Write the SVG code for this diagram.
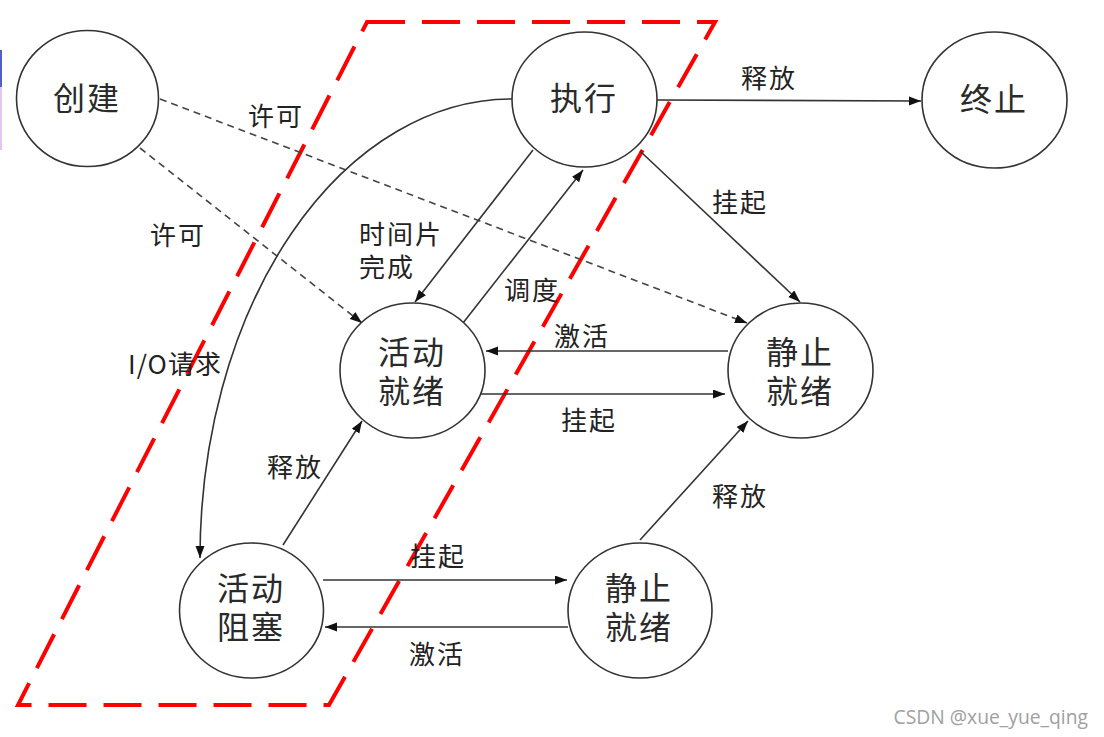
<svg xmlns="http://www.w3.org/2000/svg" width="1104" height="737" viewBox="0 0 1104 737">
<style>
.node{fill:#fff;stroke:#333;stroke-width:1.6}
.lbl{font-family:"Noto Sans CJK SC","Noto Sans",sans-serif;font-size:32px;fill:#2a2a2a;text-anchor:middle;letter-spacing:2px}
.el{font-family:"Noto Sans CJK SC","Noto Sans",sans-serif;font-size:26px;fill:#222;text-anchor:middle;letter-spacing:2px}
.c{fill:none;stroke:#333;stroke-width:1.6}
.d{fill:none;stroke:#444;stroke-width:1.6;stroke-dasharray:7 5}
.box{fill:none;stroke:#ff0000;stroke-width:4;stroke-dasharray:38 17}
</style>
<defs>
<marker id="ah" markerUnits="userSpaceOnUse" markerWidth="13" markerHeight="10" refX="12" refY="4.5" orient="auto">
<path d="M0,0 L12,4.5 L0,9 z" fill="#111"/>
</marker>
</defs>
<rect width="1104" height="737" fill="#fff"/>
<rect x="0" y="50" width="2" height="37" fill="#5060c8"/>
<rect x="0" y="87" width="2" height="63" fill="#e2c8f0"/>

<polygon class="box" points="367,22 715,22 329,705 18,705"/>

<g id="connectors">
<path class="d" d="M160,99 L747,323" marker-end="url(#ah)"/>
<path class="d" d="M140,148 L362,323" marker-end="url(#ah)"/>
<path class="c" d="M657,100 L921,101" marker-end="url(#ah)"/>
<path class="c" d="M640,151 L800,302" marker-end="url(#ah)"/>
<path class="c" d="M512,99 A312,459 0 0 0 200,558" marker-end="url(#ah)"/>
<path class="c" d="M533,150 L415,302" marker-end="url(#ah)"/>
<path class="c" d="M463,323 L583,170" marker-end="url(#ah)"/>
<path class="c" d="M728,351 L486,351" marker-end="url(#ah)"/>
<path class="c" d="M480,394 L725,394" marker-end="url(#ah)"/>
<path class="c" d="M283,545 L362,421" marker-end="url(#ah)"/>
<path class="c" d="M640,540 L748,421" marker-end="url(#ah)"/>
<path class="c" d="M323,580 L567,580" marker-end="url(#ah)"/>
<path class="c" d="M568,627 L325,627" marker-end="url(#ah)"/>
<text class="el" x="276" y="126">许可</text>
<text class="el" x="178" y="245">许可</text>
<text class="el" x="769" y="88">释放</text>
<text class="el" x="740" y="212">挂起</text>
<text class="el" style="text-anchor:start"><tspan x="359" y="244">时间片</tspan><tspan x="359" y="277">完成</tspan></text>
<text class="el" x="532" y="300">调度</text>
<text class="el" x="582" y="346">激活</text>
<text class="el" x="589" y="430">挂起</text>
<text class="el" x="175" y="374" style="letter-spacing:1px">I/O请求</text>
<text class="el" x="295" y="477">释放</text>
<text class="el" x="740" y="506">释放</text>
<text class="el" x="438" y="566">挂起</text>
<text class="el" x="437" y="664">激活</text>
</g>

<g id="n-create">
<ellipse class="node" cx="87.5" cy="98.5" rx="71" ry="68"/>
<text class="lbl" x="87" y="110">创建</text>
</g>
<g id="n-run">
<ellipse class="node" cx="584.5" cy="99.5" rx="72.5" ry="67.5"/>
<text class="lbl" x="584" y="110">执行</text>
</g>
<g id="n-exit">
<ellipse class="node" cx="994.5" cy="100" rx="72.5" ry="68"/>
<text class="lbl" x="994" y="111">终止</text>
</g>
<g id="n-active-ready">
<ellipse class="node" cx="412.5" cy="370.5" rx="72.5" ry="67.5"/>
<text class="lbl"><tspan x="412" y="364">活动</tspan><tspan x="412" y="403">就绪</tspan></text>
</g>
<g id="n-static-ready">
<ellipse class="node" cx="800.5" cy="370.5" rx="72.5" ry="67.5"/>
<text class="lbl"><tspan x="800" y="364">静止</tspan><tspan x="800" y="403">就绪</tspan></text>
</g>
<g id="n-active-blocked">
<ellipse class="node" cx="251.5" cy="610.5" rx="72" ry="67.5"/>
<text class="lbl"><tspan x="251" y="600">活动</tspan><tspan x="251" y="639">阻塞</tspan></text>
</g>
<g id="n-static-blocked">
<ellipse class="node" cx="640" cy="610.5" rx="72" ry="67.5"/>
<text class="lbl"><tspan x="639" y="600">静止</tspan><tspan x="639" y="639">就绪</tspan></text>
</g>

<text x="1088" y="724" font-family="Open Sans, sans-serif" font-size="19.3" fill="#a0a0a0" text-anchor="end">CSDN @xue_yue_qing</text>
</svg>
